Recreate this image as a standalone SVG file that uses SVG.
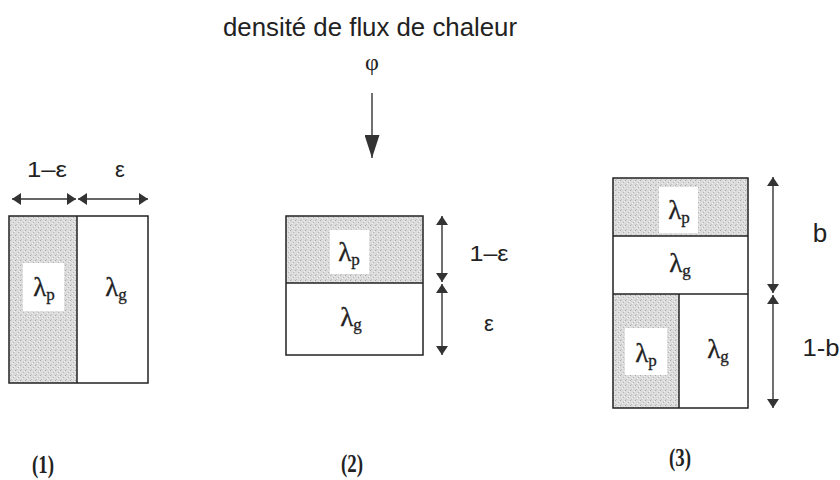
<svg xmlns="http://www.w3.org/2000/svg" width="840" height="480" viewBox="0 0 840 480">
<defs>
<pattern id="stip" width="5" height="5" patternUnits="userSpaceOnUse">
<rect width="5" height="5" fill="#dcdcdc"/>
<rect x="0" y="0" width="1" height="1" fill="#a8a8a8"/>
<rect x="3" y="2" width="1" height="1" fill="#b4b4b4"/>
<rect x="1" y="4" width="1" height="1" fill="#c0c0c0"/>
<rect x="4" y="1" width="1" height="1" fill="#f2f2f2"/>
<rect x="2" y="3" width="1" height="1" fill="#efefef"/>
</pattern>
<marker id="ah" viewBox="0 0 9 12" refX="9" refY="6" markerWidth="9" markerHeight="12" markerUnits="userSpaceOnUse" orient="auto-start-reverse">
<path d="M0,0 L9,6 L0,12 Z" fill="#333"/>
</marker>
<marker id="ahBig" viewBox="0 0 23 15" refX="23" refY="7.5" markerWidth="23" markerHeight="15" markerUnits="userSpaceOnUse" orient="auto">
<path d="M0,0 L23,7.5 L0,15 Z" fill="#333"/>
</marker>
</defs>
<style>
.box{fill:none;stroke:#222;stroke-width:1.5}
.gray{fill:url(#stip);stroke:none}
.wb{fill:#fff;stroke:none}
.ln{stroke:#333;stroke-width:1.4;fill:none}
.sans{font-family:"Liberation Sans",Arial,sans-serif;fill:#222}
.lbl{font-family:"Liberation Sans",Arial,sans-serif;font-size:22px;fill:#222;text-anchor:middle}
.ser{font-family:"Liberation Serif","Times New Roman",serif;fill:#222}
.lam{font-family:"Liberation Serif","Times New Roman",serif;font-size:27px;fill:#222;stroke:#222;stroke-width:0.3;text-anchor:middle}
.sub{font-size:17px}
.num{font-family:"Liberation Serif","Times New Roman",serif;font-size:25px;font-weight:bold;fill:#222;text-anchor:middle}
</style>

<g id="title">
<text class="sans" x="370" y="36" font-size="26" text-anchor="middle" textLength="294" lengthAdjust="spacingAndGlyphs">densité de flux de chaleur</text>
<text class="ser" x="372" y="70" font-size="24" text-anchor="middle">φ</text>
</g>

<g id="diagram1">
<rect class="gray" x="9" y="216" width="68" height="167"/>
<rect class="wb" x="23" y="263" width="41" height="48"/>
<rect class="box" x="9" y="216" width="139" height="167"/>
<line class="box" x1="77" y1="216" x2="77" y2="383"/>
<text class="lam" x="44" y="296">λ<tspan class="sub" dy="4">p</tspan></text>
<text class="lam" x="116" y="296">λ<tspan class="sub" dy="4">g</tspan></text>
<text class="lbl" x="47" y="177" textLength="40" lengthAdjust="spacingAndGlyphs">1–ε</text>
<text class="lbl" x="120" y="177">ε</text>
<text class="num" x="43" y="473" textLength="22" lengthAdjust="spacingAndGlyphs">(1)</text>
</g>

<g id="diagram2">
<rect class="gray" x="286" y="216" width="137" height="67"/>
<rect class="wb" x="330" y="230" width="39" height="44"/>
<rect class="box" x="286" y="216" width="137" height="139"/>
<line class="box" x1="286" y1="283" x2="423" y2="283"/>
<text class="lam" x="349" y="261">λ<tspan class="sub" dy="4">p</tspan></text>
<text class="lam" x="351" y="326">λ<tspan class="sub" dy="4">g</tspan></text>
<text class="lbl" x="489" y="261" textLength="39" lengthAdjust="spacingAndGlyphs">1–ε</text>
<text class="lbl" x="489" y="331">ε</text>
<text class="num" x="352" y="472" textLength="22" lengthAdjust="spacingAndGlyphs">(2)</text>
</g>

<g id="diagram3">
<rect class="gray" x="613" y="178" width="135" height="58"/>
<rect class="wb" x="659" y="187" width="39" height="46"/>
<rect class="gray" x="613" y="294" width="66" height="114"/>
<rect class="wb" x="625" y="328" width="42" height="47"/>
<rect class="box" x="613" y="178" width="135" height="230"/>
<line class="box" x1="613" y1="236" x2="748" y2="236"/>
<line class="box" x1="613" y1="294" x2="748" y2="294"/>
<line class="box" x1="679" y1="294" x2="679" y2="408"/>
<text class="lam" x="679" y="219">λ<tspan class="sub" dy="4">p</tspan></text>
<text class="lam" x="680" y="272">λ<tspan class="sub" dy="4">g</tspan></text>
<text class="lam" x="646" y="362">λ<tspan class="sub" dy="4">p</tspan></text>
<text class="lam" x="718" y="358">λ<tspan class="sub" dy="4">g</tspan></text>
<text class="sans" x="820" y="242" font-size="26" text-anchor="middle">b</text>
<text class="sans" x="821" y="356" font-size="24" text-anchor="middle" textLength="37" lengthAdjust="spacingAndGlyphs">1-b</text>
<text class="num" x="680" y="466" textLength="22" lengthAdjust="spacingAndGlyphs">(3)</text>
</g>

<g id="connectors">
<line class="ln" x1="372" y1="93" x2="372" y2="158" marker-end="url(#ahBig)"/>
<line class="ln" x1="12" y1="199" x2="76" y2="199" marker-start="url(#ah)" marker-end="url(#ah)"/>
<line class="ln" x1="78" y1="199" x2="148" y2="199" marker-start="url(#ah)" marker-end="url(#ah)"/>
<line class="ln" x1="442" y1="216" x2="442" y2="282" marker-start="url(#ah)" marker-end="url(#ah)"/>
<line class="ln" x1="442" y1="284" x2="442" y2="355" marker-start="url(#ah)" marker-end="url(#ah)"/>
<line class="ln" x1="773" y1="177" x2="773" y2="293" marker-start="url(#ah)" marker-end="url(#ah)"/>
<line class="ln" x1="773" y1="295" x2="773" y2="408" marker-start="url(#ah)" marker-end="url(#ah)"/>
</g>
</svg>
